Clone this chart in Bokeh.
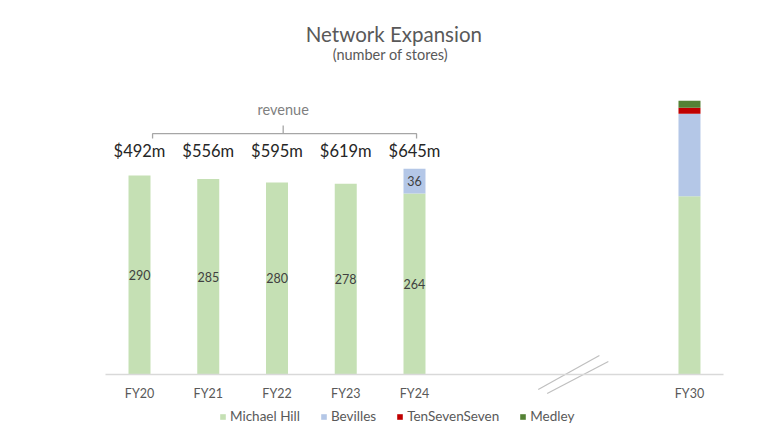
from bokeh.plotting import figure
from bokeh.models import (Range1d, LinearAxis, FixedTicker, Legend, LegendItem,
                          ColumnDataSource)
from bokeh.core.properties import value
from bokeh.embed import file_html
from bokeh.resources import INLINE

# ---- data ----
years = ["FY20", "FY21", "FY22", "FY23", "FY24", "FY30"]
year_pos = [0, 1, 2, 3, 4, 8]
michael_hill = [290, 285, 280, 278, 264, 260]
bevilles = [0, 0, 0, 0, 36, 120]
ten_seven_seven = [0, 0, 0, 0, 0, 9]
medley = [0, 0, 0, 0, 0, 10]
revenue = ["$492m", "$556m", "$595m", "$619m", "$645m"]

series = ["Michael Hill", "Bevilles", "TenSevenSeven", "Medley"]
colors = ["#c5e0b4", "#b4c7e7", "#c00000", "#548235"]

FONT = "Lato"

p = figure(width=760, height=428, output_backend="svg", toolbar_location=None,
           x_range=Range1d(-2.022, 9.033), y_range=Range1d(-78.7, 545.2),
           x_axis_location=None, y_axis_location=None,
           min_border=0, outline_line_color=None, background_fill_color="white")
p.grid.visible = False

src = ColumnDataSource(dict(x=year_pos, mh=michael_hill, bv=bevilles,
                            tss=ten_seven_seven, md=medley))
rs = p.vbar_stack(["mh", "bv", "tss", "md"], x="x", width=0.32, color=colors,
                  line_color=None, source=src)

# bar value labels
n_hist = len(revenue)
lab_x, lab_y, lab_t = [], [], []
for i in range(n_hist):
    lab_x.append(year_pos[i]); lab_y.append(michael_hill[i] / 2); lab_t.append(str(michael_hill[i]))
    if bevilles[i] > 0:
        lab_x.append(year_pos[i]); lab_y.append(michael_hill[i] + bevilles[i] / 2); lab_t.append(str(bevilles[i]))
p.text(x=lab_x, y=lab_y, text=lab_t, text_align="center", text_baseline="middle",
       text_font=value(FONT), text_font_size="12.5px", text_color="#404040")

# revenue labels
p.text(x=year_pos[:n_hist], y=[326] * n_hist, text=revenue, text_align="center",
       text_baseline="middle", text_font=value(FONT), text_font_size="16.5px",
       text_color="#262626")

# brace
brace_left, brace_right, brace_mid = 0.19, 4.03, 2.09
brace_y, brace_end_y, brace_tip_y = 351, 344, 363
p.line([brace_left, brace_left, brace_right, brace_right],
       [brace_end_y, brace_y, brace_y, brace_end_y], line_color="#a6a6a6", line_width=1.3)
p.line([brace_mid, brace_mid], [brace_y, brace_tip_y], line_color="#a6a6a6", line_width=1.3)
p.text(x=[brace_mid], y=[386], text=["revenue"], text_align="center", text_baseline="middle",
       text_font=value(FONT), text_font_size="14.5px", text_color="#7f7f7f")

# title
p.text(x=[3.70], y=[496], text=["Network Expansion"], text_align="center",
       text_baseline="middle", text_font=value(FONT), text_font_size="20.5px", text_color="#595959")
p.text(x=[3.65], y=[466], text=["(number of stores)"], text_align="center",
       text_baseline="middle", text_font=value(FONT), text_font_size="14.5px", text_color="#595959")

# axis break marks
p.line([5.80, 6.69], [-21.9, 27.7], line_color="#bfbfbf", line_width=1.2)
p.line([5.93, 6.82], [-27.7, 19.0], line_color="#bfbfbf", line_width=1.2)

# x axis
ax = LinearAxis(ticker=FixedTicker(ticks=year_pos),
                major_label_overrides={pos: y for pos, y in zip(year_pos, years)},
                bounds=(-0.5, 8.5), fixed_location=0,
                axis_line_color="#d9d9d9", axis_line_width=1.3,
                major_tick_line_color=None, minor_tick_line_color=None,
                major_label_standoff=5, major_label_text_font=FONT,
                major_label_text_font_size="12.5px", major_label_text_color="#595959")
p.add_layout(ax, "below")

legend = Legend(items=[LegendItem(label=s, renderers=[r]) for s, r in zip(series, rs)],
                orientation="horizontal", location=(219, 4),
                label_text_font=FONT, label_text_font_size="13.5px", label_text_color="#595959",
                glyph_width=7, glyph_height=7, label_standoff=4, spacing=20,
                padding=2, margin=0, border_line_color=None, background_fill_alpha=0)
p.add_layout(legend)

open("out.html", "w").write(file_html(p, INLINE))
